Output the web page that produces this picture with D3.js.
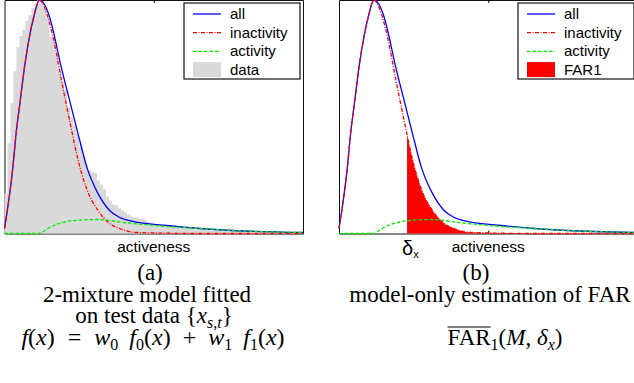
<!DOCTYPE html>
<html>
<head>
<meta charset="utf-8">
<script src="https://cdn.jsdelivr.net/npm/d3@7"></script>
<style>
body { margin: 0; background: #fff; }
svg { display: block; }
text { white-space: pre; }
</style>
</head>
<body>
<div id="chart"></div>
<script>

// curves, density units (peak ~2.33)
var activeness = [0, 2.8, 3.9, 5.3, 6.7, 8.6, 9.8, 11.7, 13.5, 15.1, 16.5, 19, 21.8, 24.6, 27.6, 31.3, 35.2, 38.6, 43, 54.4, 65.4, 76.5, 100];
var allDensity = [0.05, 0.66, 1.00, 1.33, 1.66, 2.00, 2.16, 2.33, 2.28, 2.16, 2.00, 1.66, 1.33, 1.00, 0.66, 0.40, 0.23, 0.16, 0.12, 0.08, 0.05, 0.03, 0.01];
var inactivityDensity = [0.05, 0.66, 1.00, 1.33, 1.66, 2.00, 2.16, 2.33, 2.25, 2.10, 1.93, 1.54, 1.13, 0.74, 0.44, 0.23, 0.10, 0.05, 0.013, 0.003, 0, 0, 0];
var activityDensity = [0, 0, 0, 0, 0, 0, 0, 0, 0.03, 0.06, 0.08, 0.105, 0.125, 0.133, 0.138, 0.14, 0.13, 0.115, 0.10, 0.07, 0.05, 0.03, 0.01];

// histogram of the test data, one bin per unit of activeness
var histCounts = [
    0.40, 0.90, 1.30, 1.62, 1.86, 1.97, 2.03, 2.12, 2.18, 2.25,
    2.29, 2.33, 2.30, 2.24, 2.15, 1.96, 1.95, 1.80, 1.62, 1.52,
    1.43, 1.26, 1.16, 1.08, 0.99, 0.86, 0.77, 0.68, 0.63, 0.61,
    0.60, 0.53, 0.49, 0.44, 0.37, 0.33, 0.29, 0.28, 0.25, 0.23,
    0.21, 0.19, 0.17, 0.16, 0.16, 0.15, 0.15, 0.13, 0.11, 0.10,
    0.09, 0.09, 0.08, 0.07, 0.07, 0.07, 0.06, 0.06, 0.06, 0.06,
    0.05, 0.05, 0.05, 0.04, 0.04, 0.04, 0.04, 0.04, 0.04, 0.03,
    0.03, 0.03, 0.03, 0.03, 0.03, 0.03, 0.03, 0.03, 0.03, 0.03,
    0.02, 0.02, 0.02, 0.02, 0.02, 0.02, 0.02, 0.02, 0.02, 0.02,
    0.01, 0.01, 0.01, 0.01, 0.01, 0.01, 0.01, 0.01, 0.01, 0.01
];

var deltaX = 22.8;
var xTicks = [50];
var legendA = ["all", "inactivity", "activity", "data"];
var legendB = ["all", "inactivity", "activity", "FAR1"];

var plotW = 298.5,
    plotH = 233.5;

var svg = d3.select('#chart')
    .append('svg')
        .attr('width', 634)
        .attr('height', 383);

var sans = "'Liberation Sans', Arial, sans-serif",
    serif = "'Liberation Serif', 'Times New Roman', serif";

var curvePts = activeness.map(function(a, i) {
    return {x: a, all: allDensity[i], ina: inactivityDensity[i], act: activityDensity[i]};
});

function drawPanel(left, withHist, legendLabels, legendX) {
    var g = svg.append('g');
    var x = d3.scaleLinear().domain([0, 100]).range([left, left + plotW]);
    var y = d3.scaleLinear().domain([0, 2.33]).range([plotH, 0]);

    // box with a single inward tick top and bottom
    g.append('g')
        .attr('transform', 'translate(0,' + plotH + ')')
        .call(d3.axisBottom(x).tickValues(xTicks).tickSize(-3).tickSizeOuter(0).tickFormat(''));
    g.append('g')
        .call(d3.axisTop(x).tickValues(xTicks).tickSize(-3).tickSizeOuter(0).tickFormat(''));
    g.append('g')
        .attr('transform', 'translate(' + left + ',0)')
        .call(d3.axisLeft(y).tickValues([]).tickSizeOuter(0));
    g.append('g')
        .attr('transform', 'translate(' + (left + plotW) + ',0)')
        .call(d3.axisRight(y).tickValues([]).tickSizeOuter(0));
    g.selectAll('.domain').attr('stroke', '#111');

    if (withHist) {
        var bins = histCounts.map(function(v, i) { return {x: i, y: v}; });
        bins.push({x: histCounts.length, y: histCounts[histCounts.length - 1]});
        g.append('path')
            .datum(bins)
            .attr('fill', '#d9d9d9')
            .attr('d', d3.area()
                .x(function(d) { return x(d.x); })
                .y0(y(0))
                .y1(function(d) { return y(d.y); })
                .curve(d3.curveStepAfter));
    } else {
        var clipId = 'farclip';
        svg.append('clipPath').attr('id', clipId)
            .append('rect')
                .attr('x', x(deltaX))
                .attr('y', 0)
                .attr('width', x(100) - x(deltaX) + 2)
                .attr('height', plotH + 1);
        g.append('path')
            .datum(curvePts)
            .attr('fill', '#ff0000')
            .attr('clip-path', 'url(#' + clipId + ')')
            .attr('d', d3.area()
                .x(function(d) { return x(d.x); })
                .y0(y(0))
                .y1(function(d) { return y(d.ina); })
                .curve(d3.curveMonotoneX));
    }

    var series = [
        {key: 'all', color: '#0000ff', dash: null},
        {key: 'ina', color: '#ff0000', dash: '4,1.5,1,1.5'},
        {key: 'act', color: '#00ee00', dash: '3.5,2'}
    ];
    series.forEach(function(s) {
        g.append('path')
            .datum(curvePts)
            .attr('fill', 'none')
            .attr('stroke', s.color)
            .attr('stroke-width', 1.3)
            .attr('stroke-dasharray', s.dash)
            .attr('d', d3.line()
                .x(function(d) { return x(d.x); })
                .y(function(d) { return y(d[s.key]); })
                .curve(d3.curveMonotoneX));
    });

    // legend
    var lg = g.append('g').attr('transform', 'translate(' + legendX + ',3)');
    lg.append('rect')
        .attr('width', 116).attr('height', 76)
        .attr('fill', '#fff').attr('stroke', '#111').attr('stroke-width', 1.2);
    legendLabels.forEach(function(lab, i) {
        var ry = 11 + i * 18.7;
        if (i < 3) {
            lg.append('line')
                .attr('x1', 9).attr('x2', 37)
                .attr('y1', ry).attr('y2', ry)
                .attr('stroke', series[i].color)
                .attr('stroke-width', 1.3)
                .attr('stroke-dasharray', series[i].dash);
        } else {
            lg.append('rect')
                .attr('x', 9).attr('y', ry - 8)
                .attr('width', 28).attr('height', 15)
                .attr('fill', withHist ? '#d9d9d9' : '#ff0000');
        }
        lg.append('text')
            .attr('x', 46).attr('y', ry + 5)
            .style('font-family', sans).style('font-size', '15px')
            .text(lab);
    });

    g.append('text')
        .attr('x', x(50)).attr('y', 252)
        .attr('text-anchor', 'middle')
        .style('font-family', sans).style('font-size', '15.5px')
        .text('activeness');

    return x;
}

drawPanel(4.5, true, legendA, 184);
var xb = drawPanel(339, false, legendB, 518);

// delta_x marker under the right panel
var dl = svg.append('text')
    .attr('x', xb(deltaX) - 5).attr('y', 255)
    .style('font-family', sans).style('font-size', '20px');
dl.append('tspan').text('δ');
dl.append('tspan').attr('dy', 3).style('font-size', '11px').text('x');

// captions, built from pieces so the math can be italic / subscripted
function caption(cx, cy, size, parts) {
    var t = svg.append('text')
        .attr('x', cx).attr('y', cy)
        .attr('text-anchor', 'middle')
        .style('font-family', serif).style('font-size', size + 'px');
    var shift = 0;
    parts.forEach(function(p) {
        var want = p.sub ? 5 : 0;
        var ts = t.append('tspan').text(p.t);
        if (want !== shift) { ts.attr('dy', want - shift); shift = want; }
        if (p.dx) ts.attr('dx', p.dx);
        if (p.i) ts.style('font-style', 'italic');
        if (p.sub) ts.style('font-size', Math.round(size * 0.68) + 'px');
    });
    return t;
}

caption(150, 280, 23, [{t: '(a)'}]);
caption(147, 302, 23, [{t: '2-mixture model fitted'}]);
caption(154, 323, 23, [{t: 'on test data {'}, {t: 'x', i: 1}, {t: 's,t', i: 1, sub: 1}, {t: '}'}]);
caption(153, 345, 24, [
    {t: 'f', i: 1}, {t: '('}, {t: 'x', i: 1}, {t: ')'}, {t: '=', dx: 13},
    {t: 'w', i: 1, dx: 13}, {t: '0', sub: 1}, {t: 'f', i: 1, dx: 11}, {t: '0', sub: 1}, {t: '('}, {t: 'x', i: 1}, {t: ')'},
    {t: '+', dx: 12}, {t: 'w', i: 1, dx: 12}, {t: '1', sub: 1}, {t: 'f', i: 1, dx: 11}, {t: '1', sub: 1}, {t: '('}, {t: 'x', i: 1}, {t: ')'}
]);

caption(476, 280, 23, [{t: '(b)'}]);
caption(490, 302, 23, [{t: 'model-only estimation of FAR'}]);
var far = caption(505, 345, 23, [
    {t: 'FAR'}, {t: '1', sub: 1}, {t: '('}, {t: 'M', i: 1}, {t: ', '}, {t: 'δ', i: 1}, {t: 'x', i: 1, sub: 1}, {t: ')'}
]);
// overline over FAR
var fn = far.node();
var fx0 = fn.getStartPositionOfChar(0).x,
    fx1 = fn.getEndPositionOfChar(2).x;
svg.append('line')
    .attr('x1', fx0).attr('x2', fx1)
    .attr('y1', 327).attr('y2', 327)
    .attr('stroke', '#000').attr('stroke-width', 1);

</script>
</body>
</html>
